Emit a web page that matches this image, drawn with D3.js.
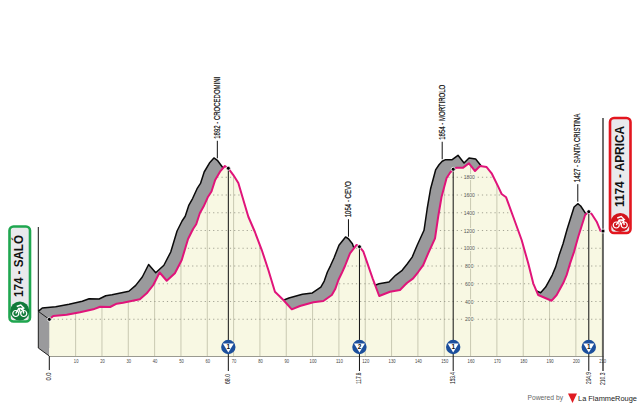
<!DOCTYPE html>
<html>
<head>
<meta charset="utf-8">
<script src="https://cdn.jsdelivr.net/npm/d3@7"></script>
<style>
html, body { margin: 0; background: #fff; }
svg { display: block; }
text { font-family: "Liberation Sans", sans-serif; }
</style>
</head>
<body>
<svg id="chart" width="640" height="406"></svg>
<script>
// profile: km and altitude
var kms = [0,1.5,6.6,11.7,16.7,19.3,23.1,25.6,28,34.4,37,39.5,41.9,44.6,47.7,50.3,52.7,54.6,55.8,57.2,58.6,60.3,61.6,63,65,66.7,68,69.9,71.8,73.7,75.6,78.1,80.7,83.2,85.7,88.9,92.1,95.2,100.3,104.1,107.3,108.6,109.8,111,112.3,114.2,116.7,117.8,119.3,122.8,125.3,129.4,133.2,135.7,138.2,140.1,142,143.9,146.5,147.7,149,150.9,152.2,153.4,154.7,157.2,159.4,161.7,163.6,166.1,168,170.5,171.8,173.5,176.2,179.4,181.9,183.8,185.7,190.8,192.7,195.2,196.5,197.8,199.3,200.9,203.5,204.9,206,207.9,209.4,210.3];
var alts = [199,237,251,278,312,341,338,375,386,425,492,586,727,634,718,868,1104,1217,1270,1397,1470,1581,1640,1769,1870,1927,1901,1825,1735,1544,1355,1183,980,755,510,417,312,349,391,406,473,540,642,715,800,943,1037,1017,961,661,462,510,530,605,661,732,810,943,1112,1355,1581,1792,1851,1890,1908,1908,1957,1870,1927,1915,1845,1694,1611,1574,1355,1093,830,605,473,409,473,608,700,830,960,1130,1375,1412,1386,1299,1194,1194];

var kmTicks = d3.range(10, 220, 10);
var altTicks = d3.range(200, 2000, 200);

// passes: km of the marker, category, km label
var passKm = [68.0, 117.8, 153.4, 204.9];
var passCat = ["1", "2", "1", "1"];
var passKmLabel = ["68.0", "117.8", "153.4", "204.9"];
var passLabelLen = [10, 11.5, 12, 12];

var summitLabel = ["1892 - CROCEDOMINI", "1054 - CEVO", "1854 - MORTIROLO", "1427 - SANTA CRISTINA"];
var summitLabelLen = [62, 36, 55, 68.5];

var startLabel = "174 - SALÓ", finishLabel = "1174 - APRICA";

var profile = kms.map(function(k, i) { return {km: k, alt: alts[i]}; });

var svg = d3.select("#chart");
var x = d3.scaleLinear().domain([0, 210.3]).range([49.3, 603]);
var y = d3.scaleLinear().domain([-214, 2000]).range([356, 159.5]);

var backDx = -11, backDy = -8; // the grey "wall" behind the road
var base = y.domain()[0];

var area = d3.area()
    .x(function(d) { return x(d.km); })
    .y0(y(base))
    .y1(function(d) { return y(d.alt); });
var line = d3.line()
    .x(function(d) { return x(d.km); })
    .y(function(d) { return y(d.alt); });

svg.append("defs").append("clipPath")
    .attr("id", "clip")
  .append("path")
    .attr("d", area(profile));

// back of the profile
var back = svg.append("g").attr("transform", "translate(" + backDx + "," + backDy + ")");
back.append("path").datum(profile).attr("fill", "#9a9a9c").attr("d", area);
back.append("path").datum(profile)
    .attr("fill", "none")
    .attr("stroke", "#0a0a0a")
    .attr("stroke-width", 1.5)
    .attr("stroke-linejoin", "round")
    .attr("d", line);

// left wall
var x0 = x(0), xb = x0 + backDx, ybot = y(base), ytop = y(alts[0]);
svg.append("path")
    .attr("fill", "#9a9a9c")
    .attr("d", "M" + xb + "," + (ytop + backDy) + "L" + x0 + "," + ytop + "L" + x0 + "," + ybot + "L" + xb + "," + (ybot + backDy) + "Z");
svg.append("path")
    .attr("fill", "none")
    .attr("stroke", "#222")
    .attr("stroke-width", 1)
    .attr("d", "M" + x0 + "," + ytop + "L" + xb + "," + (ytop + backDy) + "L" + xb + "," + (ybot + backDy) + "L" + x0 + "," + ybot);

// front face
svg.append("path").datum(profile).attr("fill", "#f8f8e3").attr("d", area);

var grid = svg.append("g").attr("clip-path", "url(#clip)");
grid.selectAll(".vgrid").data(kmTicks).enter().append("line")
    .attr("class", "vgrid")
    .attr("x1", function(d) { return x(d); })
    .attr("x2", function(d) { return x(d); })
    .attr("y1", y(2000))
    .attr("y2", y(base))
    .attr("stroke", "#c9c9b2")
    .attr("stroke-width", 1);
grid.selectAll(".hgrid").data(altTicks).enter().append("line")
    .attr("class", "hgrid")
    .attr("x1", x(0))
    .attr("x2", x(210.3))
    .attr("y1", function(d) { return y(d); })
    .attr("y2", function(d) { return y(d); })
    .attr("stroke", "#8f8f80")
    .attr("stroke-width", 0.8)
    .attr("stroke-dasharray", "1.2 3");

// altitude numbers sit inside the profile
var yAxis = grid.append("g")
    .attr("transform", "translate(" + x(159.5) + ",0)")
    .call(d3.axisRight(y).tickValues(altTicks).tickSize(0).tickPadding(0).tickFormat(d3.format("d")));
yAxis.select(".domain").remove();
yAxis.selectAll("text")
    .attr("text-anchor", "middle")
    .attr("font-size", 5)
    .attr("fill", "#555")
    .attr("stroke", "#f8f8e3")
    .attr("stroke-width", 2)
    .attr("paint-order", "stroke");

// road line
svg.append("path").datum(profile)
    .attr("fill", "none")
    .attr("stroke", "#e0147a")
    .attr("stroke-width", 2)
    .attr("stroke-linejoin", "round")
    .attr("d", line);

// km axis
var xAxis = svg.append("g")
    .attr("transform", "translate(0," + y(base) + ")")
    .call(d3.axisBottom(x).tickValues(kmTicks).tickSize(0).tickPadding(3).tickFormat(d3.format("d")));
xAxis.select(".domain").attr("stroke", "#9a9a90").attr("stroke-width", 1.2);
xAxis.selectAll("text")
    .attr("font-size", 5.5)
    .attr("fill", "#444")
    .attr("textLength", function(d) { return d < 100 ? 4.6 : 7; })
    .attr("lengthAdjust", "spacingAndGlyphs");

function vtext(px, py, str, size, len, weight) {
    var t = svg.append("text")
        .attr("transform", "translate(" + px + "," + py + ") rotate(-90)")
        .attr("font-size", size)
        .attr("fill", "#111")
        .attr("dominant-baseline", "central")
        .attr("textLength", len)
        .attr("lengthAdjust", "spacingAndGlyphs")
        .text(str);
    if (weight) t.attr("font-weight", weight);
    return t;
}

// summit flags
passKm.forEach(function(k, i) {
    var sx = x(k) + backDx, sy = y(alts[kms.indexOf(k)]) + backDy - 2;
    svg.append("line")
        .attr("x1", sx).attr("x2", sx)
        .attr("y1", sy).attr("y2", sy - 17.5)
        .attr("stroke", "#111").attr("stroke-width", 1);
    vtext(sx - 0.5, sy - 19.5, summitLabel[i], 8.6, summitLabelLen[i])
        .attr("stroke", "#111").attr("stroke-width", 0.2);
});

// start pole
svg.append("line").attr("x1", xb).attr("x2", xb).attr("y1", 227).attr("y2", ytop + backDy)
    .attr("stroke", "#111").attr("stroke-width", 1);
// finish pole
svg.append("line").attr("x1", x(210.3)).attr("x2", x(210.3)).attr("y1", 118).attr("y2", 371)
    .attr("stroke", "#333").attr("stroke-width", 1.4);
// km 0 tick
svg.append("line").attr("x1", x0).attr("x2", x0).attr("y1", ybot).attr("y2", 370)
    .attr("stroke", "#111").attr("stroke-width", 1);
vtext(x0 - 0.5, 380.5, "0.0", 8, 8);
vtext(x(210.3) - 1, 385, "210.3", 8, 12.5);

// category marks
var pass = svg.selectAll(".pass").data(passKm).enter().append("g").attr("class", "pass");
pass.append("line")
    .attr("x1", function(d) { return x(d); })
    .attr("x2", function(d) { return x(d); })
    .attr("y1", function(d) { return y(alts[kms.indexOf(d)]); })
    .attr("y2", 371)
    .attr("stroke", "#111")
    .attr("stroke-width", 1);
pass.append("circle")
    .attr("cx", function(d) { return x(d); })
    .attr("cy", 347)
    .attr("r", 7.2)
    .attr("fill", "#1c4f9c");
pass.append("path")
    .attr("d", function(d) { var c = x(d); return "M" + (c - 5.5) + ",343.5L" + (c + 5.5) + ",343.5L" + c + ",352.5Z"; })
    .attr("fill", "#fff");
pass.append("text")
    .attr("x", function(d) { return x(d); })
    .attr("y", 349)
    .attr("text-anchor", "middle")
    .attr("font-size", 6.5)
    .attr("font-weight", "bold")
    .attr("fill", "#111")
    .text(function(d, i) { return passCat[i]; });
passKm.forEach(function(k, i) {
    vtext(x(k) - 0.5, 384, passKmLabel[i], 8, passLabelLen[i]);
});

// dots on top of the poles
var dotKm = [0].concat(passKm).concat([210.3]);
svg.selectAll(".dot").data(dotKm).enter().append("circle")
    .attr("class", "dot")
    .attr("cx", function(d) { return x(d); })
    .attr("cy", function(d) { return y(alts[kms.indexOf(d)]); })
    .attr("r", 2)
    .attr("fill", "#000")
    .attr("stroke", "#fff")
    .attr("stroke-width", 0.8);

// start and finish badges
function bike(cx, cy) {
    var g = svg.append("g").attr("transform", "translate(" + cx + "," + cy + ")");
    [-4, 4].forEach(function(dx) {
        g.append("circle").attr("cx", dx).attr("cy", 2.5).attr("r", 3)
            .attr("fill", "none").attr("stroke", "#fff").attr("stroke-width", 1.2);
    });
    g.append("path")
        .attr("d", "M-4,2.5L-1,-2.5L3,-2.5L4,2.5M-1,-2.5L1,2.5M-3,-4.5L1,-6L4,-3L1,-1.5")
        .attr("fill", "none").attr("stroke", "#fff").attr("stroke-width", 1.4);
}
function badge(bx, by, bw, bh, color, dark, label, labelY, labelLen) {
    svg.append("rect")
        .attr("x", bx).attr("y", by).attr("width", bw).attr("height", bh)
        .attr("rx", 4)
        .attr("fill", "#e9e9ec")
        .attr("stroke", color)
        .attr("stroke-width", 2.6);
    var cx = bx + bw / 2, cy = by + bh - 10.5;
    svg.append("circle").attr("cx", cx).attr("cy", cy).attr("r", 9.6).attr("fill", dark);
    bike(cx, cy);
    vtext(cx - 0.5, labelY, label, 12, labelLen, "bold");
}
badge(9.5, 226.5, 20.5, 95, "#1fa64f", "#117a3a", startLabel, 297, 62);
badge(610, 118, 20.5, 115, "#e3161f", "#d2141c", finishLabel, 207, 81);

// footer
svg.append("text").attr("x", 527.5).attr("y", 400).attr("font-size", 7)
    .attr("fill", "#666").attr("textLength", 35.5).attr("lengthAdjust", "spacingAndGlyphs").text("Powered by");
svg.append("path").attr("d", d3.line()([[568, 393.5], [577, 393.5], [572.5, 403]])).attr("fill", "#e01b22");
svg.append("text").attr("x", 578).attr("y", 401).attr("font-size", 7.6)
    .attr("fill", "#222").attr("textLength", 59).attr("lengthAdjust", "spacingAndGlyphs").text("La FlammeRouge");
</script>
</body>
</html>
